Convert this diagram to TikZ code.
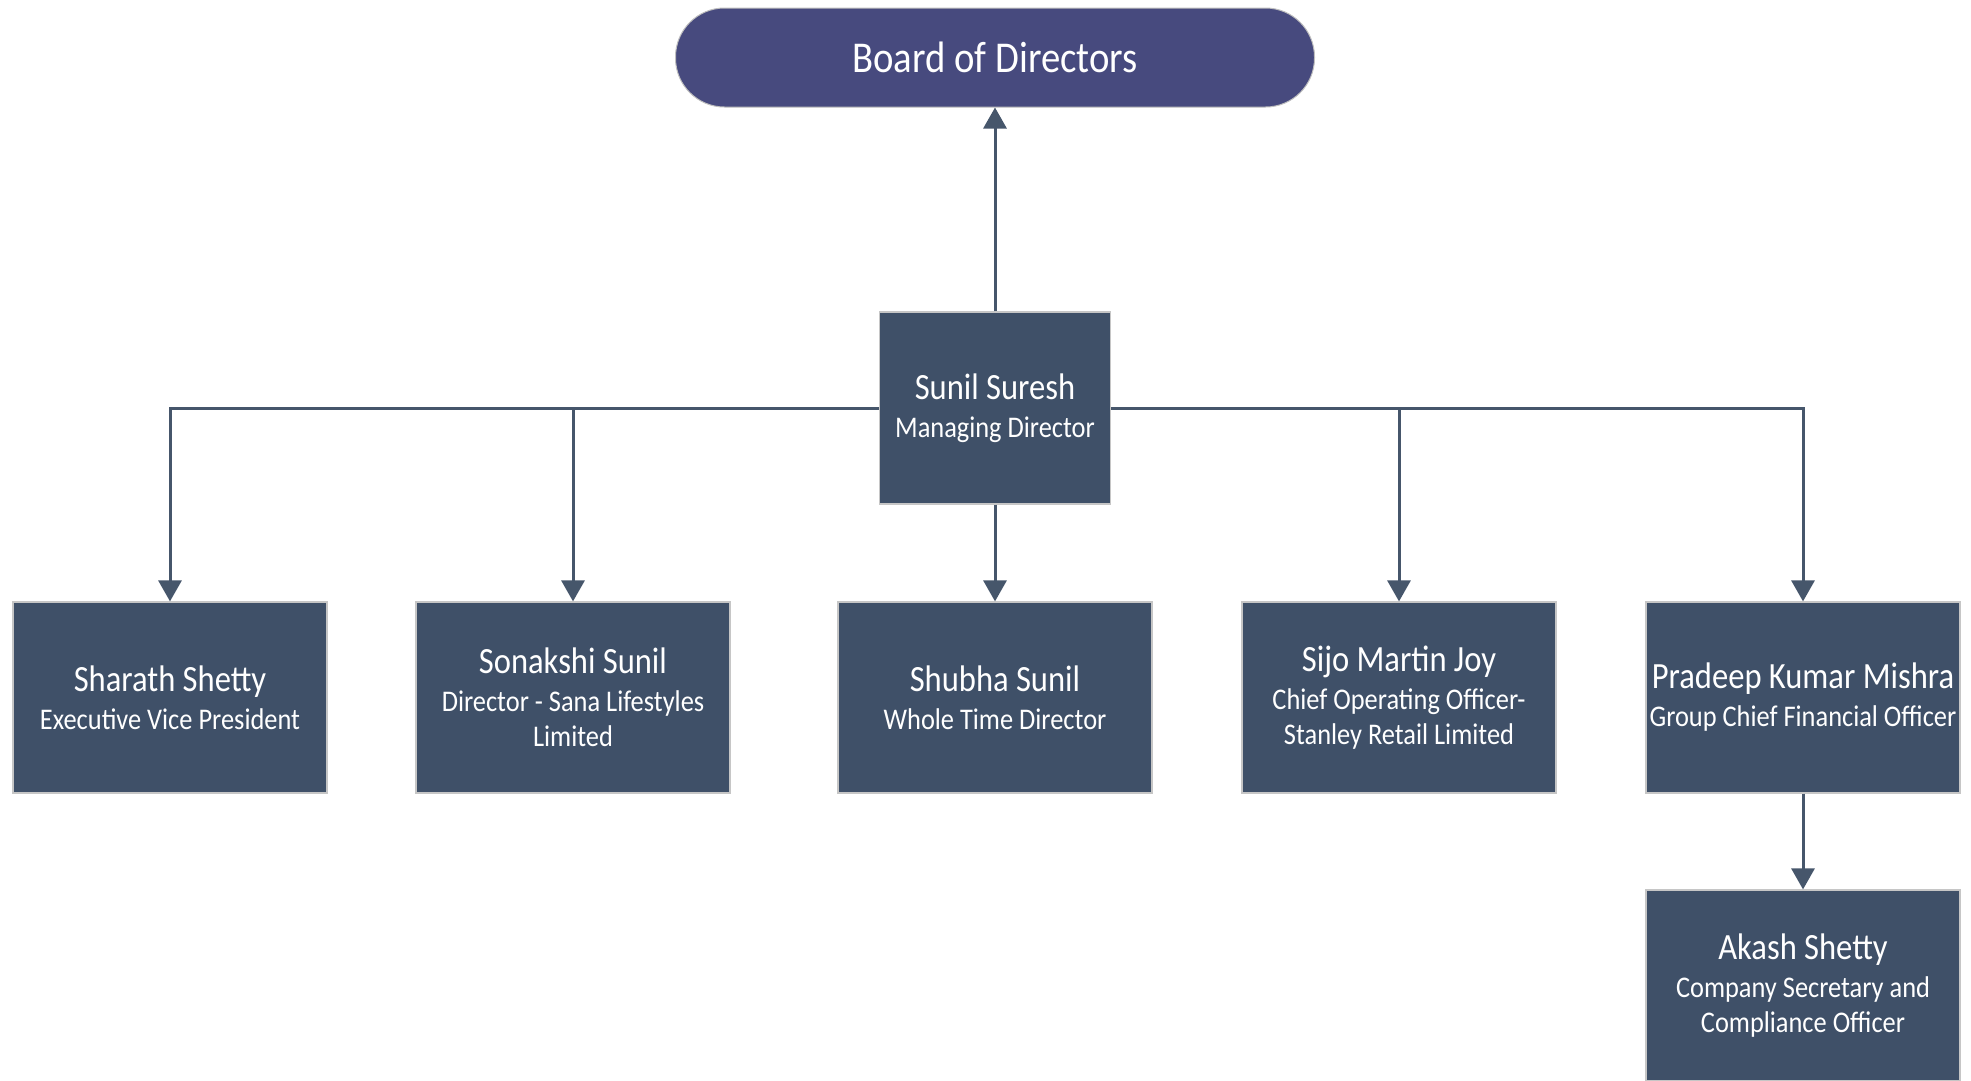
\documentclass[tikz,border=0pt]{standalone}
\usepackage{fontspec}
\setmainfont[FakeStretch=0.88]{Carlito}
\usetikzlibrary{arrows.meta}
\definecolor{boardblue}{HTML}{474A7E}
\definecolor{boxslate}{HTML}{3F5068}
\definecolor{linkslate}{HTML}{46566B}

\newcommand{\nm}[1]{{\fontsize{37}{37}\selectfont #1}}

\begin{document}
\begin{tikzpicture}[x=1pt, y=-1pt,
  person/.style={draw=gray!45, line width=1.2pt, fill=boxslate, text=white,
    minimum width=314pt, minimum height=191pt, align=center, inner sep=2pt,
    font=\fontsize{30}{35}\selectfont},
  board/.style={fill=boardblue, draw=gray!50, line width=1pt, text=white,
    minimum width=639pt, minimum height=99pt, rounded corners=49pt,
    font=\fontsize{44}{50}\selectfont},
  link/.style={draw=linkslate, line width=3pt,
    -{Triangle[width=23pt, length=21pt]}}]
  \useasboundingbox (0,0) rectangle (1971,1080);
  % top
  \node[board] (bod) at (995,57.5) {Board of Directors};
  \node[person, minimum width=231pt, minimum height=192pt] (md) at (995,408)
    {\nm{Sunil Suresh}\\[3pt]Managing Director};
  % first row
  \node[person] (evp) at (170,697.5) {\nm{Sharath Shetty}\\[3pt]Executive Vice President};
  \node[person] (sls) at (573,697.5) {\nm{Sonakshi Sunil}\\[3pt]Director - Sana Lifestyles\\Limited};
  \node[person] (wtd) at (995,697.5) {\nm{Shubha Sunil}\\[3pt]Whole Time Director};
  \node[person] (coo) at (1399,697.5) {\nm{Sijo Martin Joy}\\[3pt]Chief Operating Officer-\\Stanley Retail Limited};
  \node[person] (cfo) at (1803,697.5) {\nm{Pradeep Kumar Mishra}\\[3pt]Group Chief Financial Officer};
  % second row
  \node[person] (cs) at (1803,985.5) {\nm{Akash Shetty}\\[3pt]Company Secretary and\\Compliance Officer};
  % links
  \draw[link] (md.north) -- (bod.south);
  \draw[link] (md.west) -| (evp.north);
  \draw[link] (md.west) -| (sls.north);
  \draw[link] (md.south) -- (wtd.north);
  \draw[link] (md.east) -| (coo.north);
  \draw[link] (md.east) -| (cfo.north);
  \draw[link] (cfo.south) -- (cs.north);
\end{tikzpicture}
\end{document}
